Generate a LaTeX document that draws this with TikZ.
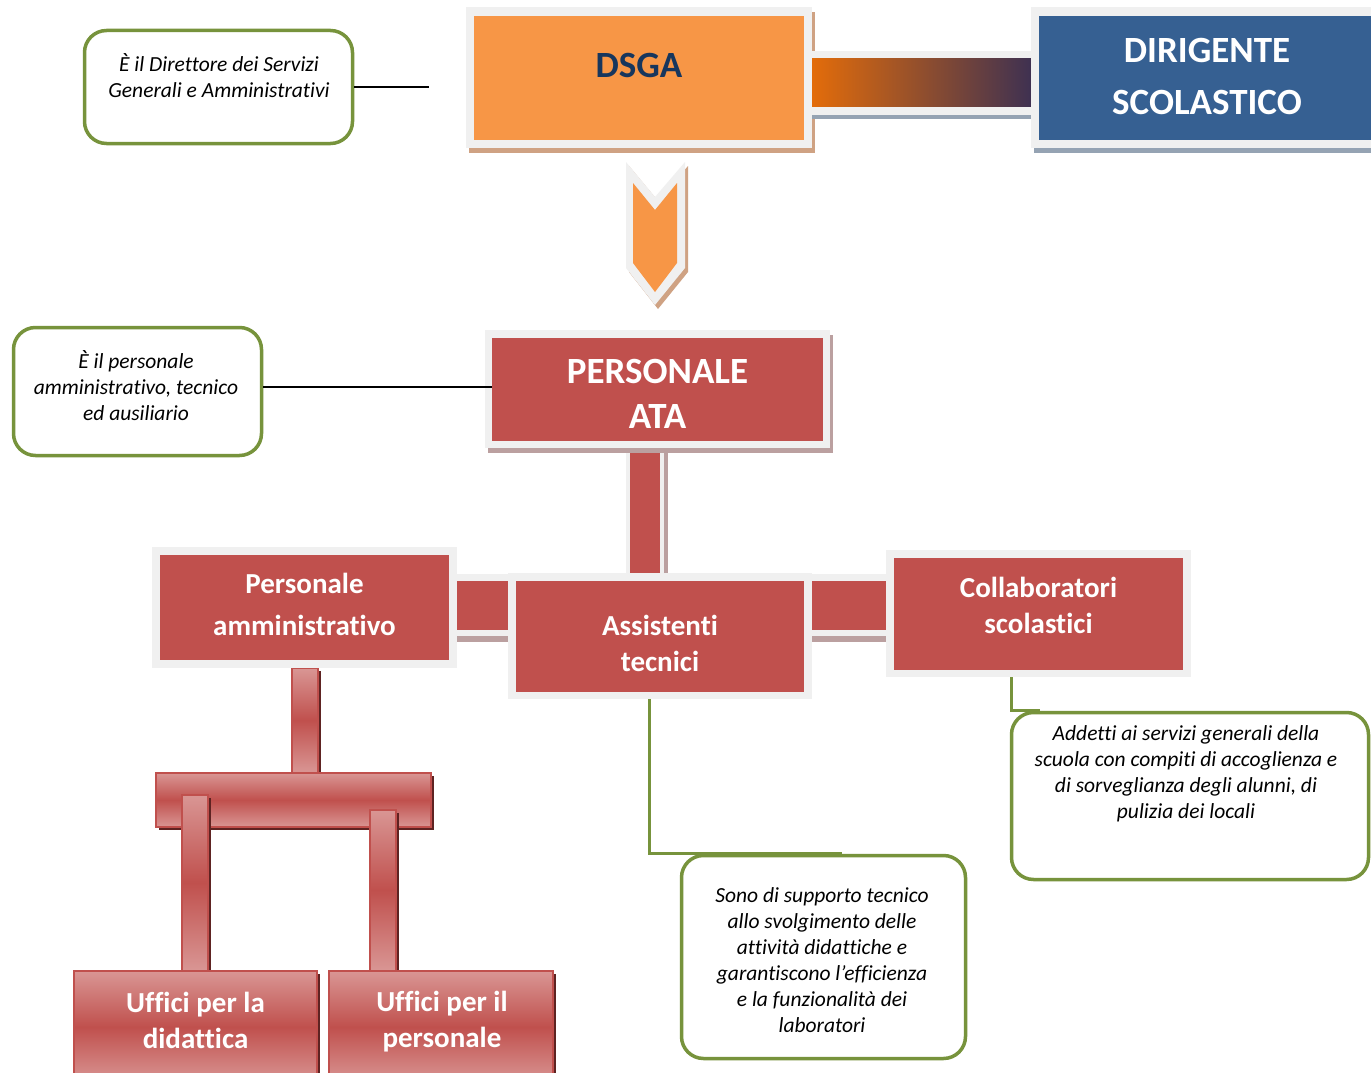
\documentclass[tikz,border=0pt]{standalone}
\usepackage{fontspec}
\setmainfont{Carlito}[Ligatures={NoCommon}]
\usetikzlibrary{shadows}
\pgfdeclarelayer{background}
\pgfdeclarelayer{front}
\pgfsetlayers{background,main,front}
\definecolor{orangeF}{HTML}{F79646}
\definecolor{navyT}{HTML}{17365D}
\definecolor{blueF}{HTML}{366092}
\definecolor{redF}{HTML}{C0504D}
\definecolor{frameG}{HTML}{F0F0F0}
\definecolor{tanS}{HTML}{CFA283}
\definecolor{blueS}{HTML}{95A3B3}
\definecolor{roseS}{HTML}{BBA0A0}
\definecolor{gradL}{HTML}{E36C0A}
\definecolor{gradR}{HTML}{3F3151}
\definecolor{greenC}{HTML}{77933C}
\definecolor{pinkL}{HTML}{D99694}
\definecolor{darkS}{HTML}{5E2322}
\begin{document}
\begin{tikzpicture}[x=1pt,y=-1pt,
  frame/.style={rectangle, fill=frameG, inner sep=0pt},
  rbox/.style={rectangle, fill=redF, inner sep=0pt},
  bigtxt/.style={font=\fontsize{37}{45}\selectfont\bfseries, align=center, text=white, inner sep=0pt},
  midtxt/.style={font=\fontsize{29}{36}\selectfont\bfseries, align=center, text=white, inner sep=0pt},
  note/.style={rectangle, rounded corners=22pt, draw=greenC, line width=3.5pt, fill=white, inner sep=0pt},
  notetxt/.style={font=\fontsize{21.5}{26}\selectfont\itshape, align=center, inner sep=0pt},
  gline/.style={draw=greenC, line width=3pt},
  bline/.style={draw=black, line width=1.5pt},
  tube/.style={rectangle, inner sep=0pt, draw=redF, line width=1.2pt, top color=pinkL, bottom color=pinkL, middle color=redF},
  tubeshadow/.style={drop shadow={shadow xshift=3pt, shadow yshift=-3pt, fill=darkS, opacity=1}},
]
\useasboundingbox (0,0) rectangle (1371,1073);

% ---------- top row ----------
\node[frame, minimum width=346, minimum height=141,
      drop shadow={shadow xshift=3pt,shadow yshift=-5pt,fill=tanS,opacity=1}] (dsgaF) at (639,77.5) {};
\node[rectangle, fill=orangeF, inner sep=0pt, minimum width=330, minimum height=124] (dsga) at (639,78) {};
\node[font=\fontsize{37}{45}\selectfont\bfseries, text=navyT, inner sep=0pt] (dsgaT) at (639,65) {DSGA};

\node[frame, minimum width=352, minimum height=141,
      drop shadow={shadow xshift=3pt,shadow yshift=-5pt,fill=blueS,opacity=1}] (dirF) at (1207,77.5) {};
\node[rectangle, fill=blueF, inner sep=0pt, minimum width=336, minimum height=124] (dir) at (1207,78) {};
\node[bigtxt, font=\fontsize{37}{52}\selectfont\bfseries] (dirT) at (1207,76) {DIRIGENTE\\SCOLASTICO};

% connector DSGA -- Dirigente
\fill[frameG] (dsgaF.east |- 0,51) rectangle (dirF.west |- 0,115);
\fill[blueS] (dsgaF.east |- 0,115) rectangle (dirF.west |- 0,119);
\shade[left color=gradL, right color=gradR] (dsgaF.east |- 0,59) rectangle (dirF.west |- 0,106);

% chevron arrow
\fill[tanS] (629,166) -- (658,201) -- (688,166) -- (688,272) -- (658,309) -- (629,272) -- cycle;
\fill[frameG] (626,162) -- (655,197) -- (685,162) -- (685,268) -- (655,305) -- (626,268) -- cycle;
\fill[orangeF] (633,183) -- (655,210) -- (677,183) -- (677,263) -- (655,292) -- (633,263) -- cycle;

% ---------- personale ATA ----------
\node[frame, minimum width=345, minimum height=118,
      drop shadow={shadow xshift=3pt,shadow yshift=-5pt,fill=roseS,opacity=1}] (ataF) at (657.5,389) {};
\node[rbox, minimum width=331, minimum height=103] (ata) at (657.5,389.5) {};
\node[bigtxt] (ataT) at (657.5,393.5) {PERSONALE\\ATA};

% ---------- second level ----------
\node[frame, minimum width=305, minimum height=121] (pamF) at (304.5,607.5) {};
\node[rbox, minimum width=289, minimum height=105] (pam) at (304.5,607.5) {};
\node[midtxt, font=\fontsize{29}{42}\selectfont\bfseries] (pamT) at (304.5,604) {Personale\\amministrativo};

\node[frame, minimum width=304, minimum height=126] (astF) at (660,636) {};
\node[rbox, minimum width=288, minimum height=111] (ast) at (660,636.5) {};
\node[midtxt] (astT) at (660,643) {Assistenti\\tecnici};

\node[frame, minimum width=305, minimum height=127] (colF) at (1038.5,613.5) {};
\node[rbox, minimum width=289, minimum height=112] (col) at (1038.5,614) {};
\node[midtxt] (colT) at (1038.5,605) {Collaboratori\\scolastici};

\begin{pgfonlayer}{background}
\fill[white] (0,0) rectangle (1371,1073);
% ATA -- Assistenti
\fill[frameG] (ataF.south -| 626,0) rectangle (astF.north -| 664,0);
\fill[roseS] (ataF.south -| 664,0) rectangle (astF.north -| 668,0);
\fill[redF] (ataF.south -| 630,0) rectangle (astF.north -| 660,0);
% Personale amministrativo -- Assistenti
\fill[frameG] (pamF.east |- 0,574) rectangle (astF.west |- 0,636);
\fill[roseS] (pamF.east |- 0,636) rectangle (astF.west |- 0,642);
\fill[redF] (pamF.east |- 0,581) rectangle (astF.west |- 0,630);
% Assistenti -- Collaboratori
\fill[frameG] (astF.east |- 0,574) rectangle (colF.west |- 0,636);
\fill[roseS] (astF.east |- 0,636) rectangle (colF.west |- 0,642);
\fill[redF] (astF.east |- 0,581) rectangle (colF.west |- 0,630);
\end{pgfonlayer}

% ---------- tree under Personale amministrativo ----------
\begin{pgfonlayer}{front}
\node[tube, tubeshadow, minimum width=243, minimum height=112] (uff1) at (195.5,1027) {};
\node[midtxt] (uff1T) at (195.5,1020) {Uffici per la\\didattica};
\node[tube, tubeshadow, minimum width=224, minimum height=112] (uff2) at (441,1027) {};
\node[midtxt] (uff2T) at (442,1022) {Uffici per il\\personale};
\end{pgfonlayer}

\node[tube, tubeshadow, minimum width=275, minimum height=54] (hbar) at (293.5,800) {};
\begin{pgfonlayer}{background}
\path[tube, tubeshadow] (pamF.south -| 292,0) rectangle (hbar.north -| 318,0);
\end{pgfonlayer}
\path[tube, tubeshadow] (182,795) rectangle (uff1.north -| 208,0);
\path[tube, tubeshadow] (370,810) rectangle (uff2.north -| 396,0);

% ---------- notes ----------
\node[note, minimum width=268, minimum height=113] (c1) at (218.5,87) {};
\node[notetxt] (c1T) at (219,76) {È il Direttore dei Servizi\\Generali e Amministrativi};
\coordinate (c1end) at (429,87);
\draw[bline] (c1.east) -- (c1end);

\node[note, minimum width=248, minimum height=128] (c2) at (137.5,391.5) {};
\node[notetxt] (c2T) at (136,386) {È il personale\\amministrativo, tecnico\\ed ausiliario};
\draw[bline] ([yshift=4.5pt]c2.east) -- ([yshift=4.5pt]c2.east -| ata.west);

\node[note, minimum width=284, minimum height=203] (c3) at (823.5,957) {};
\node[notetxt] (c3T) at (822,960) {Sono di supporto tecnico\\allo svolgimento delle\\attività didattiche e\\garantiscono l’efficienza\\e la funzionalità dei\\laboratori};
\draw[gline] (astF.south -| 649,0) |- ([xshift=18pt]c3.north);

\node[note, minimum width=357, minimum height=167] (c4) at (1190,796) {};
\node[notetxt] (c4T) at (1186,774) {Addetti ai servizi generali della\\scuola con compiti di accoglienza e\\di sorveglianza degli alunni, di\\pulizia dei locali};
\draw[gline] (colF.south -| 1011,0) |- ([xshift=30pt]c4.north west);
\end{tikzpicture}
\end{document}
